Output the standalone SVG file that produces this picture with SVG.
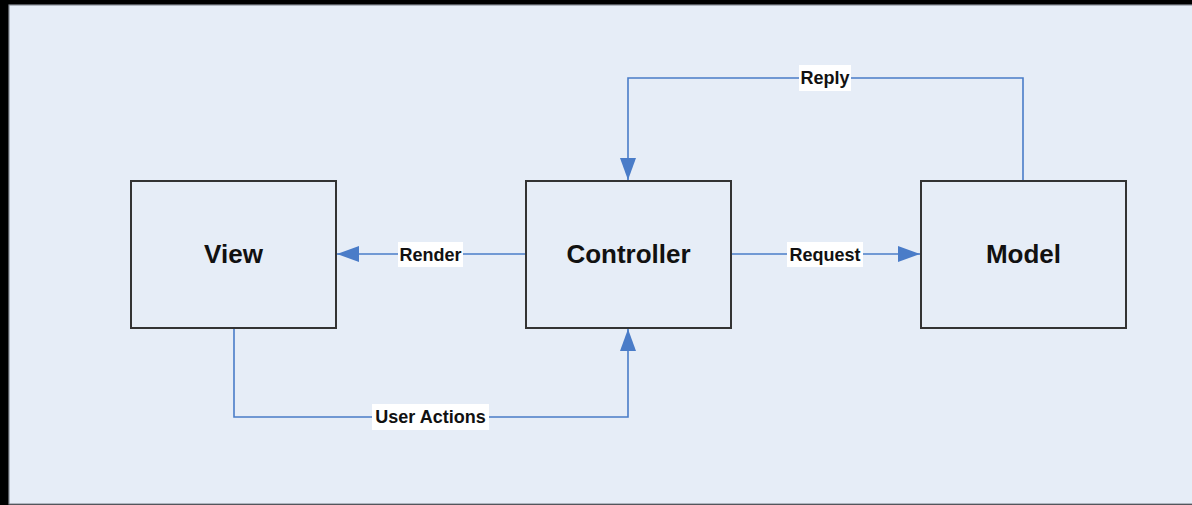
<svg xmlns="http://www.w3.org/2000/svg" width="1192" height="505" viewBox="0 0 1192 505">
<style>
.box{fill:#E6EDF7;stroke:#333;stroke-width:2}
.ntext{font-family:"Liberation Sans",Arial,sans-serif;font-weight:bold;font-size:26px;fill:#111;text-anchor:middle;dominant-baseline:central}
.conn{fill:none;stroke:#4A7CC8;stroke-width:1.6}
.lbg{fill:#fff}
.ltext{font-family:"Liberation Sans",Arial,sans-serif;font-weight:bold;font-size:18px;fill:#111;text-anchor:middle;dominant-baseline:central}
</style>
<defs>
<marker id="ah" viewBox="0 0 22 16" refX="22" refY="8" markerWidth="22" markerHeight="16" markerUnits="userSpaceOnUse" orient="auto">
<path d="M0,0 L22,8 L0,16 Z" fill="#4A7CC8"/>
</marker>
</defs>
<rect x="0" y="0" width="1192" height="505" fill="#000"/>
<rect x="9" y="5" width="1186" height="499" fill="#E6EDF7" stroke="#8A8F99" stroke-width="1.2"/>
<g id="connectors">
<path class="conn" d="M526,254 H337" marker-end="url(#ah)"/>
<path class="conn" d="M731,254 H920" marker-end="url(#ah)"/>
<path class="conn" d="M1023,181 V78 H628 V180" marker-end="url(#ah)"/>
<path class="conn" d="M234,328 V417 H628 V329" marker-end="url(#ah)"/>
<rect class="lbg" x="398" y="242" width="65" height="25"/>
<text class="ltext" x="430.5" y="254.5">Render</text>
<rect class="lbg" x="787" y="242" width="76" height="25"/>
<text class="ltext" x="825" y="254.5">Request</text>
<rect class="lbg" x="799" y="65" width="52" height="26"/>
<text class="ltext" x="825" y="77.5">Reply</text>
<rect class="lbg" x="372" y="404" width="117" height="26"/>
<text class="ltext" x="430.5" y="416.5">User Actions</text>
</g>
<g id="view">
<rect class="box" x="131" y="181" width="205" height="147"/>
<text class="ntext" x="233.5" y="254">View</text>
</g>
<g id="controller">
<rect class="box" x="526" y="181" width="205" height="147"/>
<text class="ntext" x="628.5" y="254">Controller</text>
</g>
<g id="model">
<rect class="box" x="921" y="181" width="205" height="147"/>
<text class="ntext" x="1023.5" y="254">Model</text>
</g>
</svg>
